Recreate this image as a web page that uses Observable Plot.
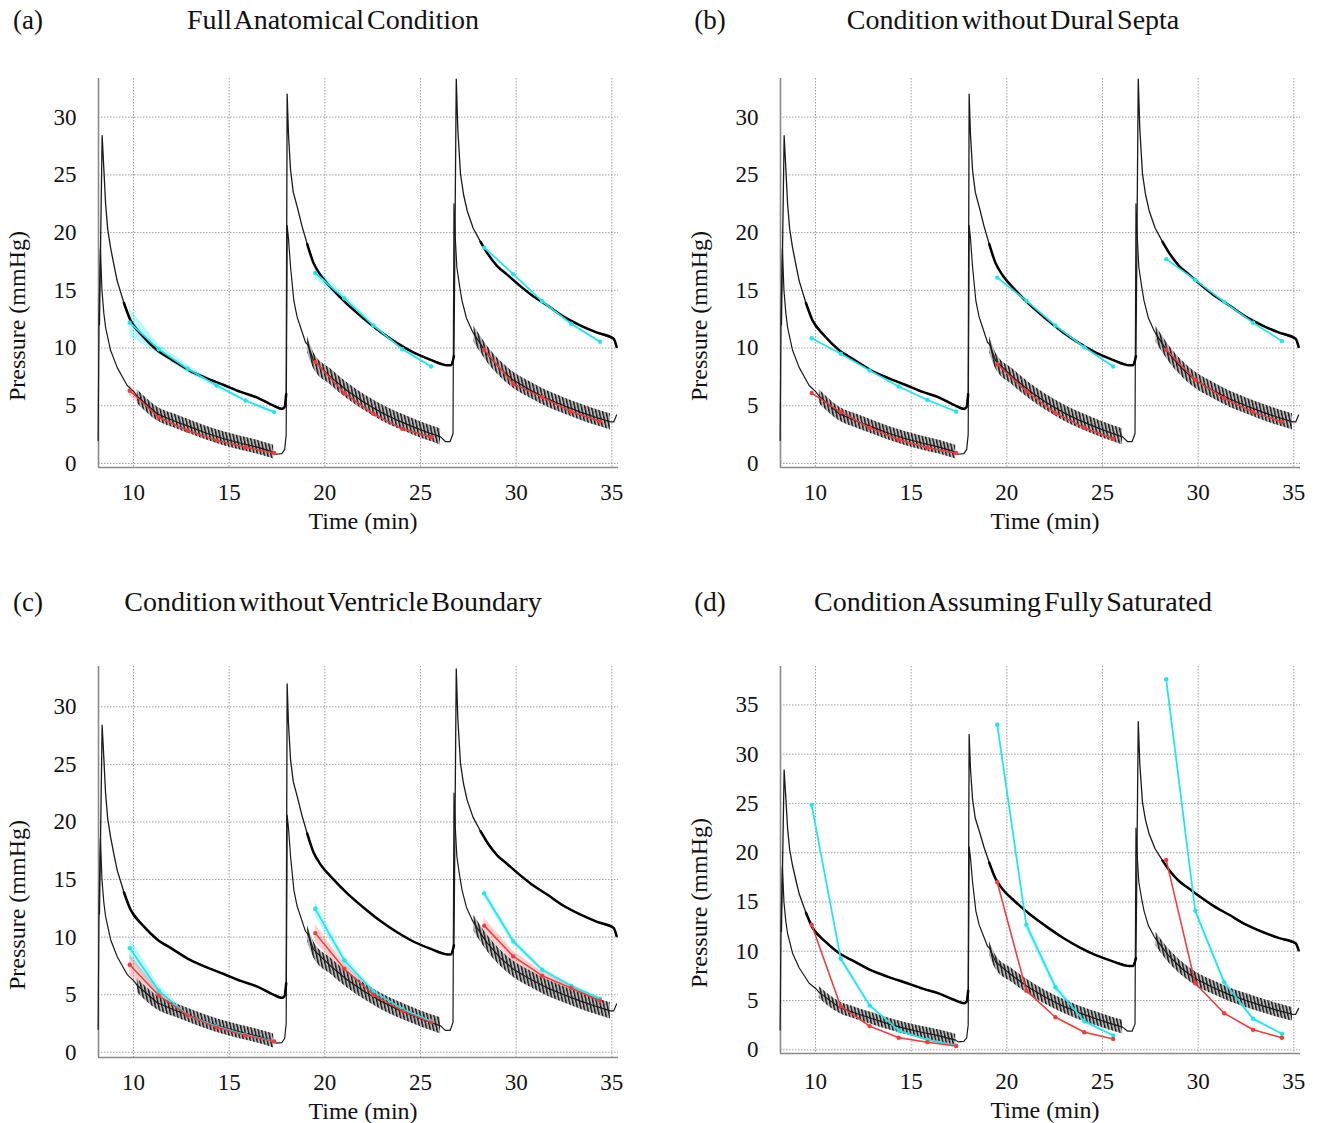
<!DOCTYPE html>
<html>
<head>
<meta charset="utf-8">
<script src="https://cdn.jsdelivr.net/npm/d3@7"></script>
<script src="https://cdn.jsdelivr.net/npm/@observablehq/plot@0.6"></script>
<style>
  body { margin: 0; background: #fff; }
  #root { position: relative; width: 1318px; height: 1123px; overflow: hidden;
          font-family: "Liberation Serif", "Times New Roman", serif; color: #111; }
  .panel { position: absolute; }
  .txt { position: absolute; white-space: nowrap; transform: translate(-50%, -50%); line-height: 1; }
  .title { font-size: 28px; word-spacing: -4px; }
  .tag { font-size: 27px; }
  .xlab { font-size: 24px; }
  .ylab { font-size: 24px; transform: translate(-50%, -50%) rotate(-90deg); }
</style>
</head>
<body>
<svg width="0" height="0" style="position:absolute">
  <defs>
    <pattern id="osc" patternUnits="userSpaceOnUse" width="3.3" height="12" patternTransform="rotate(-12)">
      <rect width="3.3" height="12" fill="#b8b8b8"></rect>
      <rect x="0" y="0" width="1.4" height="12" fill="#151515"></rect>
    </pattern>
  </defs>
</svg>
<div id="root"></div>
<script>
// ---------------- DATA ----------------
const panelTags = ["(a)", "(b)", "(c)", "(d)"];
const panelTitles = ["Full Anatomical Condition", "Condition without Dural Septa",
                     "Condition without Ventricle Boundary", "Condition Assuming Fully Saturated"];
const xLabel = "Time (min)";
const yLabel = "Pressure (mmHg)";
const xTicks = [10, 15, 20, 25, 30, 35];
const yTicksStd = [0, 5, 10, 15, 20, 25, 30];
const yTicksD = [0, 5, 10, 15, 20, 25, 30, 35];

// injection times (start of each segment)
const injTimes = [8.33, 18.03, 26.87];

// measured pressure, upper trace (min, mmHg)
const upperTime = [8.22, 8.36, 8.45, 8.54, 8.65, 8.8, 9.0, 9.15, 9.5, 9.84, 10.5, 11.24, 12.0, 12.98, 13.8, 14.72, 15.6, 16.47, 17.2, 17.77, 17.9, 17.98,
  18.03, 18.1, 18.21, 18.35, 18.56, 18.8, 19.08, 19.4, 19.78, 20.4, 21.17, 22.0, 22.91, 23.8, 24.65, 25.5, 26.4, 26.6, 26.75,
  26.87, 26.95, 27.09, 27.25, 27.44, 27.75, 28.14, 28.5, 29.01, 29.5, 30.05, 30.8, 31.62, 32.5, 33.37, 34.2, 35.1, 35.25];
const upperPressure = [12.0, 28.4, 25.5, 22.5, 20.3, 18.7, 17.0, 15.8, 13.9, 12.4, 11.0, 9.8, 9.0, 8.0, 7.4, 6.8, 6.2, 5.7, 5.1, 4.73, 4.9, 6.0,
  32.0, 28.5, 25.4, 23.5, 22.2, 20.6, 19.0, 17.4, 16.3, 15.1, 13.8, 12.6, 11.4, 10.4, 9.6, 9.0, 8.5, 8.5, 9.3,
  33.3, 29.0, 25.1, 23.3, 21.9, 20.4, 19.2, 18.2, 17.1, 16.4, 15.6, 14.6, 13.7, 12.7, 11.95, 11.35, 10.8, 10.1];

// measured pressure, lower trace (oscillating part given by its centre)
const lowerTime = [8.15, 8.2, 8.27, 8.35, 8.45, 8.54, 8.8, 9.15, 9.67, 10.02, 10.2, 11.24, 12.1, 12.98, 13.85, 14.72, 15.6, 16.47, 17.33, 17.45, 17.75, 17.9, 17.98,
  18.03, 18.1, 18.21, 18.38, 18.55, 18.73, 18.99, 19.1, 19.42, 20.3, 21.17, 22.04, 22.91, 23.78, 24.65, 25.35, 26.05, 26.3, 26.55, 26.7,
  26.75, 26.82, 26.9, 27.05, 27.17, 27.4, 27.7, 27.8, 28.48, 29.17, 29.87, 30.75, 31.62, 32.5, 33.37, 34.15, 34.93, 35.1, 35.25];
const lowerPressure = [2.0, 13.0, 18.6, 15.0, 13.0, 11.8, 9.8, 8.3, 6.75, 6.2, 5.8, 4.3, 3.7, 3.15, 2.6, 2.14, 1.75, 1.41, 0.98, 0.8, 0.85, 1.2, 2.5,
  20.6, 19.5, 17.0, 14.1, 12.7, 11.8, 10.5, 10.3, 8.9, 7.5, 6.3, 5.3, 4.45, 3.75, 3.15, 2.7, 2.3, 1.9, 1.9, 2.6,
  22.5, 19.5, 17.0, 15.3, 14.1, 12.6, 11.5, 11.2, 9.5, 8.2, 7.2, 6.35, 5.6, 5.0, 4.45, 4.0, 3.6, 3.6, 4.2];
// oscillation ranges of the lower trace and their half amplitude (mmHg)
const oscStart = [10.2, 19.1, 27.8];
const oscEnd = [17.33, 26.05, 34.93];
const oscAmp = [0.6, 0.7, 0.7];

// simulated sample times
const simTime = [9.8, 11.32, 12.83, 14.35, 15.85, 17.35, 19.5, 21.02, 22.54, 24.05, 25.56, 28.33, 29.85, 31.36, 32.87, 34.38];
const simSeg = [1, 1, 1, 1, 1, 1, 2, 2, 2, 2, 2, 3, 3, 3, 3, 3];

// (a)
const aCyan = [12.2, 9.9, 8.2, 6.75, 5.45, 4.45, 16.5, 14.3, 11.95, 9.9, 8.4, 18.7, 16.4, 14.05, 12.1, 10.55];
const aCyanSpread = [1.2, 0.4, 0.35, 0.2, 0.12, 0.1, 0.5, 0.35, 0.2, 0.1, 0.1, 0.15, 0.1, 0.1, 0.1, 0.1];
const aRed = [6.3, 4.0, 2.85, 2.0, 1.41, 0.9, 8.8, 6.1, 4.3, 3.0, 2.3, 9.85, 6.9, 5.75, 4.5, 3.65];
const aRedSpread = [0.45, 0.15, 0.1, 0.08, 0.05, 0.05, 0.15, 0.1, 0.08, 0.05, 0.05, 0.1, 0.08, 0.05, 0.05, 0.05];
// (b)
const bCyan = [10.85, 9.5, 8.05, 6.67, 5.5, 4.5, 16.1, 14.1, 11.95, 10.07, 8.4, 17.7, 15.9, 14.0, 12.2, 10.6];
const bCyanSpread = [0.05, 0.05, 0.05, 0.05, 0.05, 0.05, 0.05, 0.05, 0.05, 0.05, 0.05, 0.05, 0.05, 0.05, 0.05, 0.05];
const bRed = [6.1, 4.45, 3.1, 2.05, 1.36, 0.9, 8.6, 6.26, 4.36, 3.1, 2.14, 9.85, 7.25, 5.65, 4.45, 3.6];
const bRedSpread = [0.05, 0.05, 0.05, 0.05, 0.05, 0.05, 0.05, 0.05, 0.05, 0.05, 0.05, 0.05, 0.05, 0.05, 0.05, 0.05];
// (c)
const cCyan = [9.05, 5.35, 3.2, 2.25, 1.53, 0.95, 12.46, 7.98, 5.29, 3.76, 2.69, 13.8, 9.63, 7.17, 5.78, 4.66];
const cCyanSpread = [0.9, 0.45, 0.2, 0.1, 0.1, 0.1, 0.6, 0.4, 0.2, 0.15, 0.1, 0.35, 0.3, 0.2, 0.15, 0.15];
const cRed = [7.6, 4.94, 3.2, 2.17, 1.47, 0.95, 10.35, 7.26, 5.0, 3.6, 2.6, 11.0, 8.33, 6.65, 5.58, 4.48];
const cRedSpread = [0.9, 0.4, 0.2, 0.1, 0.1, 0.1, 0.75, 0.45, 0.25, 0.15, 0.1, 0.65, 0.45, 0.35, 0.2, 0.15];
// (d)
const dCyan = [24.85, 9.23, 4.5, 1.96, 1.0, 0.44, 33.0, 12.68, 6.35, 2.9, 1.45, 37.6, 14.1, 6.86, 3.14, 1.62];
const dCyanSpread = [0.3, 0.3, 0.2, 0.1, 0.1, 0.1, 0.4, 0.5, 0.4, 0.2, 0.1, 0.4, 0.3, 0.3, 0.2, 0.1];
const dRed = [12.7, 4.4, 2.4, 1.22, 0.77, 0.37, 17.0, 6.0, 3.3, 1.78, 1.1, 19.27, 6.75, 3.71, 2.03, 1.22];
const dRedSpread = [0.15, 0.1, 0.08, 0.05, 0.05, 0.05, 0.2, 0.1, 0.08, 0.05, 0.05, 0.2, 0.1, 0.08, 0.05, 0.05];

// ---------------- DRAWING ----------------
const CYAN = "#1fe6ee";
const RED = "#f43a3a";
const OSC_SENTINEL = "#010203";
const X_DOMAIN = [8.17, 35.35];
const FONT = "'Liberation Serif', 'Times New Roman', serif";

function segOf(t) { let s = 0; injTimes.forEach((u, i) => { if (t >= u) s = i + 1; }); return s; }
function sinceInj(t) { const prev = injTimes.filter(u => u <= t); return prev.length ? t - prev[prev.length - 1] : -1; }

const upper = upperTime.map((t, i) => ({ t, v: upperPressure[i], seg: segOf(t), since: sinceInj(t) }));
const lower = lowerTime.map((t, i) => ({ t, v: lowerPressure[i] }));
const osc = [];
lower.forEach(d => {
  oscStart.forEach((a, k) => { if (d.t >= a && d.t <= oscEnd[k]) osc.push({ t: d.t, v: d.v, seg: k + 1, amp: oscAmp[k] }); });
});

const panels = [
  { left: 0, top: 40, width: 660, mr: 42, height: 497, mb: 70, yDomain: [-0.35, 33.35], yTicks: yTicksStd, tp: 16,
    cyan: aCyan, cyanSpread: aCyanSpread, red: aRed, redSpread: aRedSpread },
  { left: 682, top: 40, width: 636, mr: 18, height: 497, mb: 70, yDomain: [-0.35, 33.35], yTicks: yTicksStd, tp: 16,
    cyan: bCyan, cyanSpread: bCyanSpread, red: bRed, redSpread: bRedSpread },
  { left: 0, top: 628, width: 660, mr: 42, height: 493, mb: 64, yDomain: [-0.45, 33.5], yTicks: yTicksStd, tp: 16,
    cyan: cCyan, cyanSpread: cCyanSpread, red: cRed, redSpread: cRedSpread },
  { left: 682, top: 628, width: 636, mr: 18, height: 489, mb: 64, yDomain: [-0.38, 38.9], yTicks: yTicksD, tp: 19,
    cyan: dCyan, cyanSpread: dCyanSpread, red: dRed, redSpread: dRedSpread }
];

const root = document.getElementById("root");

panels.forEach((p, idx) => {
  const sim = simTime.map((t, i) => ({ t, seg: simSeg[i], c: p.cyan[i], r: p.red[i], cs: p.cyanSpread[i], rs: p.redSpread[i] }));
  const grid = { stroke: "#a0a0a0", strokeOpacity: 1, strokeWidth: 1, strokeDasharray: "1.5,1.5" };
  const chart = Plot.plot({
    width: p.width, height: p.height,
    marginLeft: 98, marginRight: p.mr, marginTop: 38, marginBottom: p.mb,
    x: { domain: X_DOMAIN },
    y: { domain: p.yDomain },
    style: { fontFamily: FONT, fontSize: "22px", color: "#111", background: "transparent", overflow: "visible" },
    marks: [
      Plot.gridY({ ticks: p.yTicks, ...grid }),
      Plot.gridX({ ticks: xTicks, ...grid }),
      Plot.ruleX([X_DOMAIN[0]], { stroke: "#8a8a8a", strokeWidth: 1.6 }),
      Plot.ruleY([p.yDomain[0]], { stroke: "#8a8a8a", strokeWidth: 1.6 }),
      Plot.axisX({ ticks: xTicks, tickSize: 0, tickPadding: p.tp, fontSize: 23, label: null }),
      Plot.axisY({ ticks: p.yTicks, tickSize: 0, tickPadding: 22, fontSize: 23, label: null }),
      Plot.areaY(sim, { x: "t", y1: d => d.c - d.cs, y2: d => d.c + d.cs, z: "seg", fill: CYAN, fillOpacity: 0.3 }),
      Plot.areaY(sim, { x: "t", y1: d => d.r - d.rs, y2: d => d.r + d.rs, z: "seg", fill: RED, fillOpacity: 0.25 }),
      Plot.areaY(osc, { x: "t", y1: d => d.v - d.amp, y2: d => d.v + d.amp, z: "seg", fill: OSC_SENTINEL, curve: "monotone-x" }),
      Plot.line(lower, { x: "t", y: "v", stroke: "#1a1a1a", strokeWidth: 1.2 }),
      Plot.line(upper, { x: "t", y: "v", stroke: "#1a1a1a", strokeWidth: 1.3 }),
      Plot.line(upper.filter(d => d.since > 0.9), { x: "t", y: "v", z: "seg", stroke: "#000", strokeWidth: 2.5, curve: "monotone-x" }),
      Plot.line(sim, { x: "t", y: "c", z: "seg", stroke: CYAN, strokeWidth: 1.7 }),
      Plot.dot(sim, { x: "t", y: "c", r: 2.2, fill: CYAN }),
      Plot.line(sim, { x: "t", y: "r", z: "seg", stroke: RED, strokeWidth: 1.5 }),
      Plot.dot(sim, { x: "t", y: "r", r: 2.2, fill: RED })
    ]
  });
  chart.querySelectorAll("[fill]").forEach(e => {
    if (e.getAttribute("fill").toLowerCase() === OSC_SENTINEL) e.setAttribute("fill", "url(#osc)");
  });
  chart.classList.add("panel");
  chart.style.left = p.left + "px";
  chart.style.top = p.top + "px";
  root.appendChild(chart);

  const plotLeft = p.left + 98;
  const plotRight = p.left + p.width - p.mr;
  const plotTop = p.top + 38;
  const axisBottom = p.top + p.height - p.mb;
  const rowTitleY = idx < 2 ? 20 : 602;

  const addText = (cls, text, x, y) => {
    const el = document.createElement("div");
    el.className = "txt " + cls;
    el.textContent = text;
    el.style.left = x + "px";
    el.style.top = y + "px";
    root.appendChild(el);
  };
  addText("tag", panelTags[idx], p.left + 28, rowTitleY);
  addText("title", panelTitles[idx], idx % 2 ? 1013 : 333, rowTitleY);
  addText("xlab", xLabel, (plotLeft + plotRight) / 2 + 5, axisBottom + (idx === 3 ? 57 : 54));
  addText("ylab", yLabel, p.left + 17, plotTop + (axisBottom - plotTop) / 2 + 43);
});
</script>
</body>
</html>
